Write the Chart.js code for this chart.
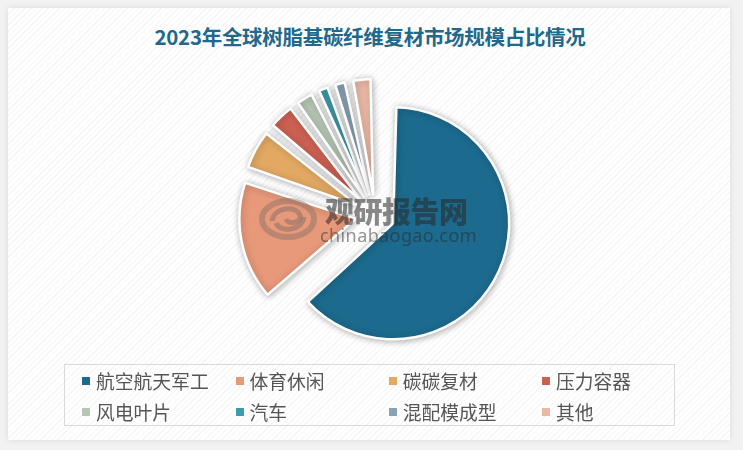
<!DOCTYPE html>
<html>
<head>
<meta charset="utf-8">
<script src="https://cdn.jsdelivr.net/npm/chart.js@4"></script>
<style>
  html,body{margin:0;padding:0;}
  body{width:743px;height:450px;background:#f2f2f2;position:relative;overflow:hidden;font-family:"Noto Sans CJK SC","Noto Sans",sans-serif;}
  #card{position:absolute;left:8px;top:8px;width:722px;height:432px;background-color:#fff;
    background-image:repeating-linear-gradient(135deg, rgba(0,0,0,0.035) 0px, rgba(0,0,0,0.035) 1px, transparent 1px, transparent 4px);
    box-shadow:0 0 6px rgba(0,0,0,0.10);}
  #title{position:absolute;left:0;width:740px;top:22px;text-align:center;font-size:20.5px;line-height:28px;font-weight:bold;color:#22688b;letter-spacing:-0.3px;}
  #pieWrap{position:absolute;left:205px;top:45px;width:340px;height:340px;}
  #legend{position:absolute;left:64px;top:364px;width:611px;height:62px;border:1px solid #d9d9d9;box-sizing:border-box;}
  .li{position:absolute;height:24px;line-height:24px;font-size:18.8px;color:#555555;white-space:nowrap;}
  .li i{position:absolute;left:0;top:8px;width:8px;height:8px;}
  .li span{position:absolute;left:14px;top:0;}
  #wm1{position:absolute;left:325px;top:193px;font-size:29px;font-weight:900;color:rgba(40,40,40,0.55);letter-spacing:-0.5px;line-height:34px;}
  #wm2{position:absolute;left:320px;top:224px;font-family:"Noto Sans",sans-serif;font-size:18px;color:rgba(40,40,40,0.5);letter-spacing:0.4px;line-height:22px;}
  #logo{position:absolute;left:258px;top:195px;}
</style>
</head>
<body>
<div id="card"></div>
<div id="title">2023年全球树脂基碳纤维复材市场规模占比情况</div>
<div id="pieWrap"><canvas id="c" width="340" height="340"></canvas></div>
<svg id="logo" width="62" height="48" viewBox="0 0 62 48">
  <ellipse cx="30" cy="24" rx="26" ry="18" fill="none" stroke="rgba(130,110,100,0.45)" stroke-width="6"/>
  <path d="M14 26 C16 12, 38 10, 42 20 C44 28, 30 30, 28 24" fill="none" stroke="rgba(130,110,100,0.5)" stroke-width="5"/>
  <path d="M46 22 C44 36, 22 38, 18 28" fill="none" stroke="rgba(130,110,100,0.5)" stroke-width="5"/>
</svg>
<div id="wm1">观研报告网</div>
<div id="wm2">chinabaogao.com</div>
<div id="legend"></div>
<script>
const categories = ["航空航天军工","体育休闲","碳碳复材","压力容器","风电叶片","汽车","混配模成型","其他"];
const shares = [63.6, 16.5, 5.8, 4.0, 2.9, 2.0, 2.1, 3.1];
const colors = ["#1c6a8e","#e8997a","#e3a963","#cc6152","#b7c6b4","#3d9cab","#89a3b6","#ecb8a6"];

const EXPLODE = 20;   // radial shift of every slice, px
const RADIUS = 116;   // pie radius, px

const shadowPlugin = {
  id: 'shadow',
  beforeDatasetDraw(chart) {
    const ctx = chart.ctx;
    ctx.save();
    ctx.shadowColor = 'rgba(0,0,0,0.3)';
    ctx.shadowBlur = 7;
    ctx.shadowOffsetX = 1;
    ctx.shadowOffsetY = 1;
  },
  afterDatasetDraw(chart) {
    chart.ctx.restore();
  }
};

// Chart.js v4 ArcElement: translates by offset/4 and grows radius by offset/4*(1-sin(min(PI,circ))).
// Compensate the radius growth so every exploded slice keeps the same radius.
const equalRadiusPlugin = {
  id: 'equalRadius',
  afterDatasetsUpdate(chart) {
    chart.getDatasetMeta(0).data.forEach(arc => {
      const circ = arc.endAngle - arc.startAngle;
      const fix = 1 - Math.sin(Math.min(Math.PI, circ));
      arc.outerRadius = RADIUS - EXPLODE * fix;
    });
  }
};

new Chart(document.getElementById('c'), {
  type: 'pie',
  data: {
    labels: categories,
    datasets: [{
      data: shares,
      backgroundColor: colors,
      borderColor: '#ffffff',
      borderWidth: 2.5,
      offset: EXPLODE * 4,
      hoverOffset: 0,
      radius: RADIUS
    }]
  },
  options: {
    responsive: false,
    animation: false,
    events: [],
    layout: { padding: 0 },
    plugins: { legend: { display: false }, tooltip: { enabled: false }, title: { display: false } }
  },
  plugins: [equalRadiusPlugin, shadowPlugin]
});

const legend = document.getElementById('legend');
const colX = [17, 170.5, 323.7, 477];
const rowY = [4, 35];
categories.forEach((name, i) => {
  const d = document.createElement('div');
  d.className = 'li';
  d.style.left = colX[i % 4] + 'px';
  d.style.top = rowY[Math.floor(i / 4)] + 'px';
  const box = document.createElement('i');
  box.style.background = colors[i];
  const t = document.createElement('span');
  t.textContent = name;
  d.appendChild(box); d.appendChild(t);
  legend.appendChild(d);
});
</script>
</body>
</html>
